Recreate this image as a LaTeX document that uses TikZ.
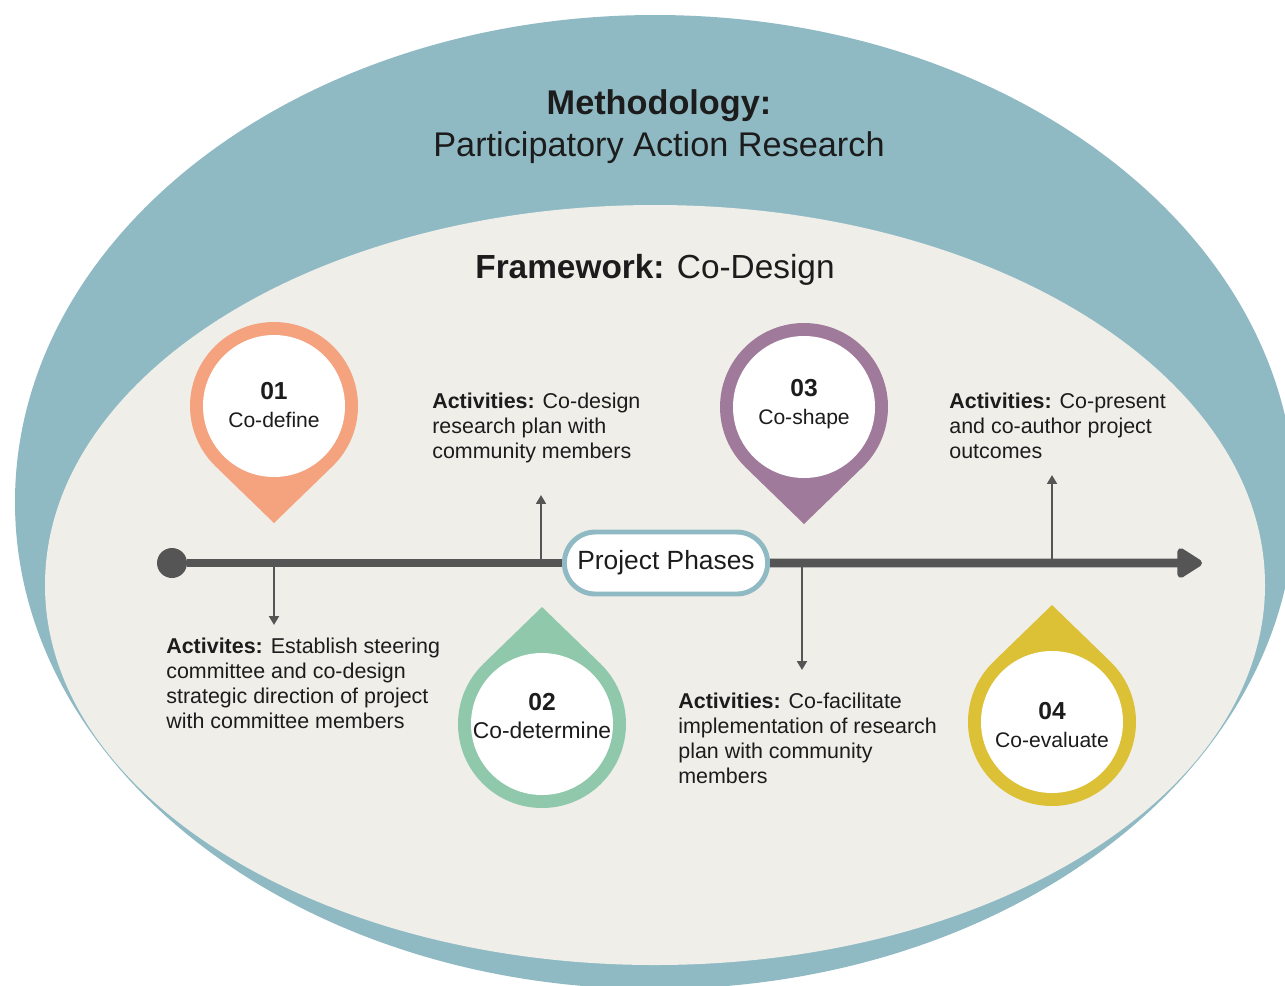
\documentclass[tikz,border=0pt]{standalone}
\usepackage{fontspec}
\setmainfont{Liberation Sans}
\usetikzlibrary{arrows.meta,calc,shapes.misc}

\definecolor{bandteal}{HTML}{8FBAC4}
\definecolor{paper}{HTML}{EFEEE9}
\definecolor{peach}{HTML}{F5A27F}
\definecolor{mint}{HTML}{8FC8AB}
\definecolor{mauve}{HTML}{A07A9B}
\definecolor{mustard}{HTML}{DCC036}
\definecolor{axisgrey}{HTML}{555555}
\definecolor{ink}{HTML}{1C1C1C}

\tikzset{
  activity/.style={anchor=north west, align=left, inner sep=0pt, text=ink,
    font=\fontsize{12.2}{14.2}\selectfont},
  phase/.style={align=center, inner sep=0pt, text=ink,
    font=\fontsize{12}{16}\selectfont},
  stem/.style={axisgrey, line width=1.4pt,
    -{Triangle[length=5pt,width=5.5pt]}},
  axis/.style={axisgrey, line width=5.1pt},
}

% drop shaped marker: colour, centre x, centre y, angle of the tip
\newcommand{\droppin}[4]{%
  \fill[#1] (#2,#3) ++({#4+44}:\rout)
    arc[start angle=#4+44, end angle=#4+316, radius=\rout]
    -- ($(#2,#3)+(#4:117)$) -- cycle;
  \fill[white] (#2,#3) circle (\rin);}

\begin{document}
\begin{tikzpicture}[x=0.02cm,y=0.02cm]
\clip (0,0) rectangle (1285,-985);
\fill[white] (0,0) rectangle (1285,-985);
\pgfmathsetmacro{\rout}{84};
\pgfmathsetmacro{\rin}{71};

% methodology and framework
\fill[bandteal] (655,-502) ellipse (640 and 487);
\fill[paper] (655,-585) ellipse (610 and 380);
\node[font=\fontsize{19.5}{24}\selectfont, align=center, text=ink] (method)
  at (659,-127) {\textbf{Methodology:}\\Participatory Action Research};
\node[font=\fontsize{19}{23}\selectfont, text=ink] (frame)
  at (655,-270) {\textbf{Framework:} Co-Design};

% stems from the time line to the activities
\coordinate (s1) at (274,-563);  \coordinate (e1) at (274,-625);
\coordinate (s2) at (541,-563);  \coordinate (e2) at (541,-495);
\coordinate (s3) at (802,-563);  \coordinate (e3) at (802,-670);
\coordinate (s4) at (1052,-563); \coordinate (e4) at (1052,-475);
\draw[stem] (s1) -- (e1);
\draw[stem] (s2) -- (e2);
\draw[stem] (s3) -- (e3);
\draw[stem] (s4) -- (e4);

% time line
\node[circle, fill=axisgrey, inner sep=0pt, minimum size=0.6cm] (start) at (172,-563) {};
\node[draw=bandteal, line width=2.8pt, fill=white, rounded rectangle,
  minimum width=4.3cm, minimum height=1.24cm, text=ink,
  font=\fontsize{15}{18}\selectfont] (phases) at (666,-563) {Project Phases};
\coordinate (finish) at (1202,-563);
\draw[axis] (start) -- (phases);
\draw[axis, -{Triangle[length=16pt,width=19pt,round]}] (phases) -- (finish);

% the four phases
\droppin{peach}{274}{-406}{-90}
\droppin{mint}{542}{-724}{90}
\droppin{mauve}{804}{-407}{-90}
\droppin{mustard}{1052}{-722}{90}
\node[phase] (define) at (274,-405) {{\fontsize{14}{16}\bfseries 01}\\Co-define};
\node[phase] (determine) at (542,-716)
  {{\fontsize{14}{16}\bfseries 02}\\{\fontsize{13}{16}\selectfont Co-determine}};
\node[phase] (shape) at (804,-404) {{\fontsize{14}{16}\bfseries 03}\\Co-shape};
\node[phase] (evaluate) at (1052,-725) {{\fontsize{14}{16}\bfseries 04}\\Co-evaluate};

% activities
\node[activity] (act1) at (166,-638) {\textbf{Activites:} Establish steering\\
  committee and co-design\\strategic direction of project\\with committee members};
\node[activity] (act2) at (432,-393) {\textbf{Activities:} Co-design\\
  research plan with\\community members};
\node[activity] (act3) at (678,-693) {\textbf{Activities:} Co-facilitate\\
  implementation of research\\plan with community\\members};
\node[activity] (act4) at (949,-393) {\textbf{Activities:} Co-present\\
  and co-author project\\outcomes};
\end{tikzpicture}
\end{document}
